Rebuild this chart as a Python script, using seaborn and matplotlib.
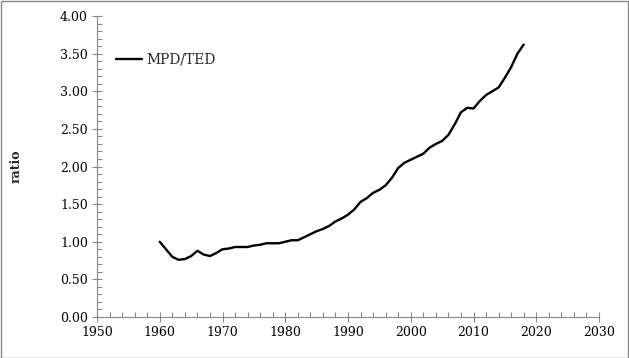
import matplotlib
matplotlib.use("Agg")
import matplotlib.pyplot as plt
from matplotlib.patches import Rectangle
from matplotlib.ticker import MultipleLocator, FormatStrFormatter
import seaborn as sns
import pandas as pd

years = list(range(1960, 2019))
ratio = [1.00, 0.90, 0.80, 0.76, 0.77, 0.81, 0.88, 0.83, 0.81, 0.85,
         0.90, 0.91, 0.93, 0.93, 0.93, 0.95, 0.96, 0.98, 0.98, 0.98,
         1.00, 1.02, 1.02, 1.06, 1.10, 1.14, 1.17, 1.21, 1.27, 1.31,
         1.36, 1.43, 1.53, 1.58, 1.65, 1.69, 1.75, 1.85, 1.98, 2.05,
         2.09, 2.13, 2.17, 2.25, 2.30, 2.34, 2.42, 2.56, 2.72, 2.78,
         2.77, 2.87, 2.95, 3.00, 3.05, 3.18, 3.32, 3.50, 3.62]
series_name = "MPD/TED"
y_label = "ratio"

df = pd.DataFrame({"year": years, "ratio": ratio, "series": series_name})

sns.set_theme(style="white")
plt.rcParams["font.family"] = ["DejaVu Serif"]
plt.rcParams["font.size"] = 8.5

fig = plt.figure(figsize=(6.29, 3.58), dpi=100)
ax = fig.add_axes([97/629, 1-317/358, (599-97)/629, (317-16)/358])

sns.lineplot(data=df, x="year", y="ratio", hue="series", palette=["black"],
             linewidth=1.7, ax=ax)

gray = "#868686"
ax.set_xlim(1950, 2030)
ax.set_ylim(0, 4)
ax.xaxis.set_major_locator(MultipleLocator(10))
ax.xaxis.set_minor_locator(MultipleLocator(2))
ax.yaxis.set_major_locator(MultipleLocator(0.5))
ax.yaxis.set_minor_locator(MultipleLocator(0.1))
ax.yaxis.set_major_formatter(FormatStrFormatter("%.2f"))
ax.tick_params(which="major", direction="inout", length=7, width=0.8, color=gray,
               labelsize=9, labelcolor="black", pad=3)
ax.tick_params(which="minor", direction="in", length=3.5, width=0.8, color=gray)
ax.tick_params(axis="both", which="both", bottom=True, left=True)
for s in ["top", "right"]:
    ax.spines[s].set_visible(False)
for s in ["left", "bottom"]:
    ax.spines[s].set_color(gray)
    ax.spines[s].set_linewidth(0.8)

ax.set_xlabel("")
ax.set_ylabel(y_label, fontweight="bold", fontsize=9)
ax.yaxis.set_label_coords(-0.148, 0.5)

leg = ax.legend(loc="upper left", bbox_to_anchor=(0.012, 0.92), frameon=False,
                fontsize=10, handlelength=1.9, handletextpad=0.3)

fig.patches.append(Rectangle((0.5/629, 0.5/358), 1-1.5/629, 1-1.5/358,
                             transform=fig.transFigure, fill=False,
                             edgecolor=gray, linewidth=1))

fig.savefig("out.png", dpi=100)
